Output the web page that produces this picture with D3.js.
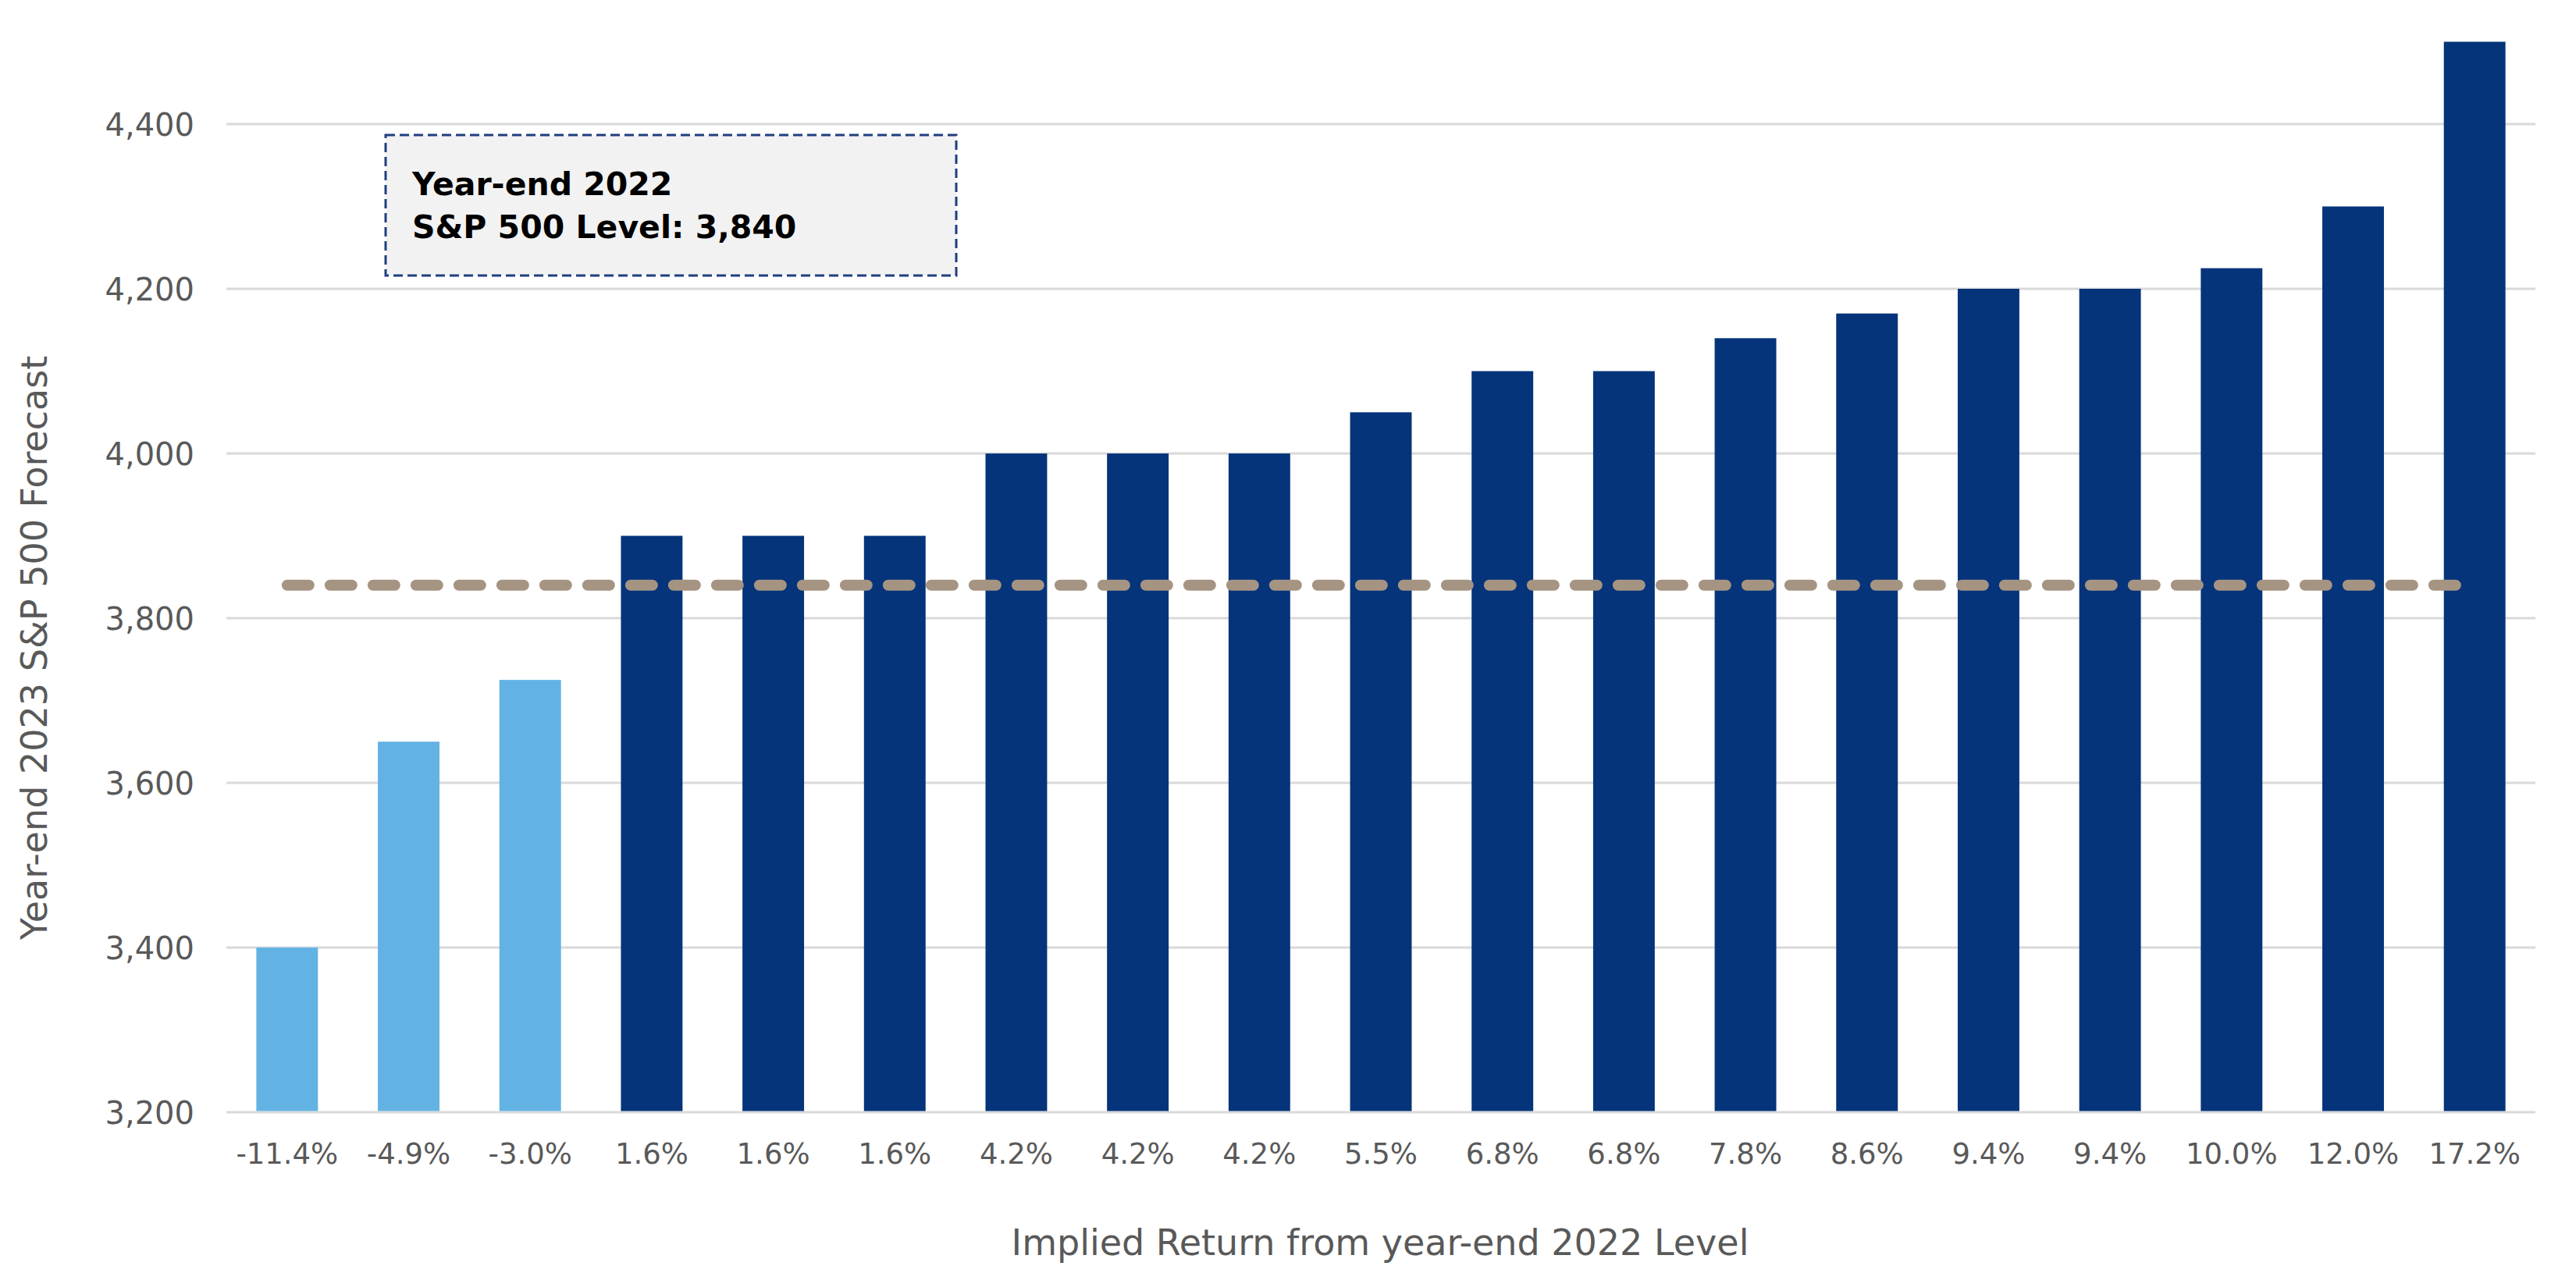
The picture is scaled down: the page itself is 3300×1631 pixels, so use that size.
<!DOCTYPE html>
<html>
<head>
<meta charset="utf-8">
<script src="https://cdn.jsdelivr.net/npm/d3@7"></script>
<style>
  html, body { margin: 0; padding: 0; background: #fff; }
  svg { display: block; }
  text { font-family: "DejaVu Sans", sans-serif; }
</style>
</head>
<body>
<svg id="chart" width="3300" height="1631"></svg>
<script>
// chart values
var returnLabels = ["-11.4%", "-4.9%", "-3.0%", "1.6%", "1.6%", "1.6%", "4.2%", "4.2%", "4.2%",
                    "5.5%", "6.8%", "6.8%", "7.8%", "8.6%", "9.4%", "9.4%", "10.0%", "12.0%", "17.2%"];
var forecasts = [3400, 3650, 3725, 3900, 3900, 3900, 4000, 4000, 4000,
                 4050, 4100, 4100, 4140, 4170, 4200, 4200, 4225, 4300, 4500];
var yTicks = [3200, 3400, 3600, 3800, 4000, 4200, 4400];
var baseLevel = 3840;
var boxLines = ["Year-end 2022", "S&P 500 Level: 3,840"];

var svg = d3.select("#chart");
var plotLeft = 290, plotRight = 3248, plotTop = 53.5, plotBottom = 1425;

var x = d3.scaleBand()
  .domain(d3.range(forecasts.length))
  .range([plotLeft, plotRight])
  .paddingInner(0.493)
  .paddingOuter(0.2465);

var y = d3.scaleLinear()
  .domain([3200, 4500])
  .range([plotBottom, plotTop]);

// gridlines
svg.append("g")
  .selectAll("line")
  .data(yTicks)
  .enter()
  .append("line")
  .attr("x1", plotLeft)
  .attr("x2", plotRight)
  .attr("y1", function(d){ return y(d); })
  .attr("y2", function(d){ return y(d); })
  .attr("stroke", "#d9d9d9")
  .attr("stroke-width", 3);

// y tick labels
var yAxis = d3.axisLeft(y).tickValues(yTicks).tickSize(0).tickPadding(0).tickFormat(d3.format(","));
var yG = svg.append("g")
  .attr("transform", "translate(249,0)")
  .call(yAxis);
yG.select(".domain").remove();
yG.selectAll("text")
  .attr("fill", "#595959")
  .attr("font-size", 40)
  .attr("font-family", "DejaVu Sans, sans-serif")
  .attr("dy", "0.36em");

// bars
svg.append("g")
  .selectAll("rect")
  .data(forecasts)
  .enter()
  .append("rect")
  .attr("x", function(d, i){ return x(i); })
  .attr("width", x.bandwidth())
  .attr("y", function(d){ return y(d); })
  .attr("height", function(d){ return y(3200) - y(d) - 1.5; })
  .attr("fill", function(d){ return d < baseLevel ? "#62b3e4" : "#05347a"; });

// x tick labels
var xAxis = d3.axisBottom(x).tickSize(0).tickPadding(0).tickFormat(function(i){ return returnLabels[i]; });
var xG = svg.append("g")
  .attr("transform", "translate(0,1491)")
  .call(xAxis);
xG.select(".domain").remove();
xG.selectAll("text")
  .attr("fill", "#595959")
  .attr("font-size", 37)
  .attr("font-family", "DejaVu Sans, sans-serif")
  .attr("dy", 0)
  .attr("y", 0);

// year-end 2022 level line
var first = x(0) + x.bandwidth() / 2;
var last = x(forecasts.length - 1) + x.bandwidth() / 2;
svg.append("line")
  .attr("x1", first)
  .attr("x2", last)
  .attr("y1", y(baseLevel))
  .attr("y2", y(baseLevel))
  .attr("stroke", "#a69483")
  .attr("stroke-width", 14)
  .attr("stroke-linecap", "round")
  .attr("stroke-dasharray", "28 27");

// annotation box
svg.append("rect")
  .attr("x", 494)
  .attr("y", 173)
  .attr("width", 731)
  .attr("height", 180)
  .attr("fill", "#f2f2f2")
  .attr("stroke", "#1f3f7e")
  .attr("stroke-width", 3)
  .attr("stroke-dasharray", "12 6");

svg.append("g")
  .selectAll("text")
  .data(boxLines)
  .enter()
  .append("text")
  .attr("x", 528)
  .attr("y", function(d, i){ return 250 + i * 55; })
  .attr("font-size", 41)
  .attr("font-weight", "bold")
  .attr("fill", "#000")
  .text(function(d){ return d; });

// axis titles
svg.append("text")
  .attr("transform", "translate(60,830) rotate(-90)")
  .attr("text-anchor", "middle")
  .attr("font-size", 46)
  .attr("fill", "#595959")
  .text("Year-end 2023 S&P 500 Forecast");

svg.append("text")
  .attr("x", 1768)
  .attr("y", 1608)
  .attr("text-anchor", "middle")
  .attr("font-size", 46)
  .attr("fill", "#595959")
  .text("Implied Return from year-end 2022 Level");
</script>
</body>
</html>
